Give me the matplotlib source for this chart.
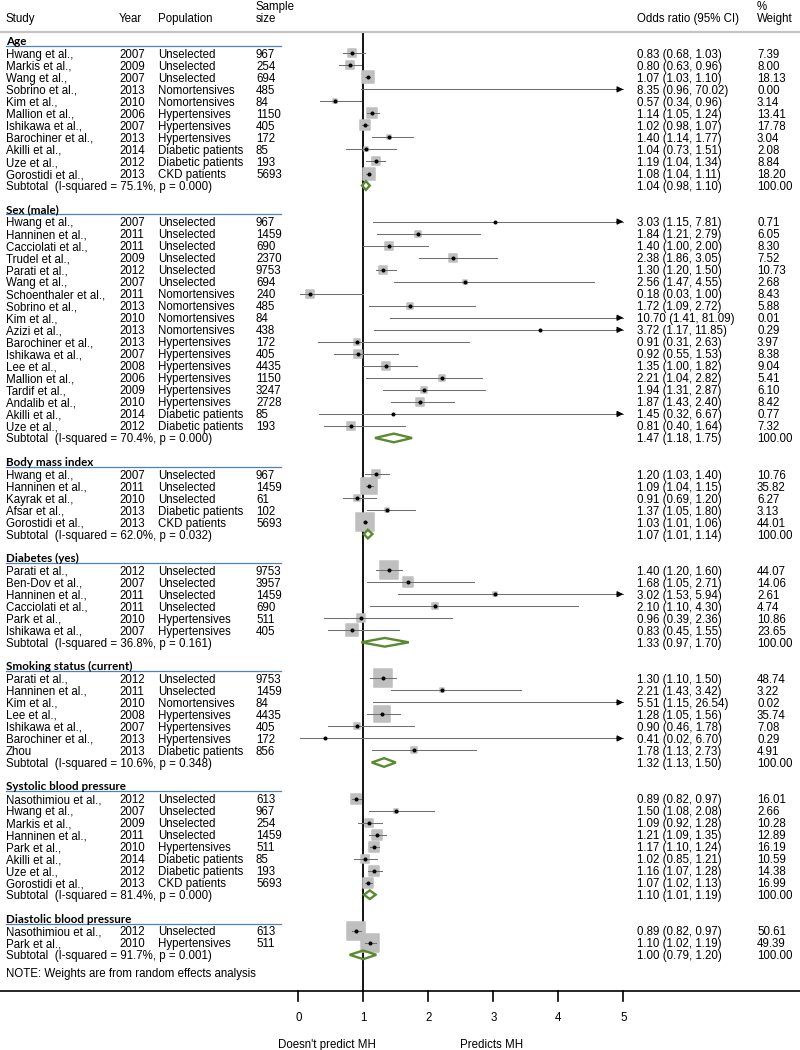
import numpy as np
import matplotlib.pyplot as plt
from matplotlib.patches import Polygon
from matplotlib.transforms import blended_transform_factory

plt.rcParams['font.family'] = ['Liberation Sans', 'DejaVu Sans']

# ---- data ----
sections = ['Age', 'Sex (male)', 'Body mass index', 'Diabetes (yes)',
            'Smoking status (current)', 'Systolic blood pressure',
            'Diastolic blood pressure']
group = [0] * 11 + [1] * 18 + [2] * 5 + [3] * 6 + [4] * 7 + [5] * 8 + [6] * 2

study = ['Hwang et al.,', 'Markis et al.,', 'Wang et al.,', 'Sobrino et al.,', 'Kim et al.,',
         'Mallion et al.,', 'Ishikawa et al.,', 'Barochiner et al.,', 'Akilli et al.,',
         'Uze et al.,', 'Gorostidi et al.,',
         'Hwang et al.,', 'Hanninen et al.,', 'Cacciolati et al.,', 'Trudel et al.,',
         'Parati et al.,', 'Wang et al.,', 'Schoenthaler et al.,', 'Sobrino et al.,',
         'Kim et al.,', 'Azizi et al.,', 'Barochiner et al.,', 'Ishikawa et al.,',
         'Lee et al.,', 'Mallion et al.,', 'Tardif et al.,', 'Andalib et al.,',
         'Akilli et al.,', 'Uze et al.,',
         'Hwang et al.,', 'Hanninen et al.,', 'Kayrak et al.,', 'Afsar et al.,',
         'Gorostidi et al.,',
         'Parati et al.,', 'Ben-Dov et al.,', 'Hanninen et al.,', 'Cacciolati et al.,',
         'Park et al.,', 'Ishikawa et al.,',
         'Parati et al.,', 'Hanninen et al.,', 'Kim et al.,', 'Lee et al.,',
         'Ishikawa et al.,', 'Barochiner et al.,', 'Zhou',
         'Nasothimiou et al.,', 'Hwang et al.,', 'Markis et al.,', 'Hanninen et al.,',
         'Park et al.,', 'Akilli et al.,', 'Uze et al.,', 'Gorostidi et al.,',
         'Nasothimiou et al.,', 'Park et al.,']
year = [2007, 2009, 2007, 2013, 2010, 2006, 2007, 2013, 2014, 2012, 2013,
        2007, 2011, 2011, 2009, 2012, 2007, 2011, 2013, 2010, 2013, 2013, 2007,
        2008, 2006, 2009, 2010, 2014, 2012,
        2007, 2011, 2010, 2013, 2013,
        2012, 2007, 2011, 2011, 2010, 2007,
        2012, 2011, 2010, 2008, 2007, 2013, 2013,
        2012, 2007, 2009, 2011, 2010, 2014, 2012, 2013,
        2012, 2010]
U, N, H, D, C = 'Unselected', 'Nomortensives', 'Hypertensives', 'Diabetic patients', 'CKD patients'
population = [U, U, U, N, N, H, H, H, D, D, C,
              U, U, U, U, U, U, N, N, N, N, H, H, H, H, H, H, D, D,
              U, U, U, D, C,
              U, U, U, U, H, H,
              U, U, N, H, H, H, D,
              U, U, U, U, H, D, D, C,
              U, H]
sample_size = [967, 254, 694, 485, 84, 1150, 405, 172, 85, 193, 5693,
               967, 1459, 690, 2370, 9753, 694, 240, 485, 84, 438, 172, 405,
               4435, 1150, 3247, 2728, 85, 193,
               967, 1459, 61, 102, 5693,
               9753, 3957, 1459, 690, 511, 405,
               9753, 1459, 84, 4435, 405, 172, 856,
               613, 967, 254, 1459, 511, 85, 193, 5693,
               613, 511]
odds = [0.83, 0.80, 1.07, 8.35, 0.57, 1.14, 1.02, 1.40, 1.04, 1.19, 1.08,
        3.03, 1.84, 1.40, 2.38, 1.30, 2.56, 0.18, 1.72, 10.70, 3.72, 0.91, 0.92,
        1.35, 2.21, 1.94, 1.87, 1.45, 0.81,
        1.20, 1.09, 0.91, 1.37, 1.03,
        1.40, 1.68, 3.02, 2.10, 0.96, 0.83,
        1.30, 2.21, 5.51, 1.28, 0.90, 0.41, 1.78,
        0.89, 1.50, 1.09, 1.21, 1.17, 1.02, 1.16, 1.07,
        0.89, 1.10]
ci_low = [0.68, 0.63, 1.03, 0.96, 0.34, 1.05, 0.98, 1.14, 0.73, 1.04, 1.04,
          1.15, 1.21, 1.00, 1.86, 1.20, 1.47, 0.03, 1.09, 1.41, 1.17, 0.31, 0.55,
          1.00, 1.04, 1.31, 1.43, 0.32, 0.40,
          1.03, 1.04, 0.69, 1.05, 1.01,
          1.20, 1.05, 1.53, 1.10, 0.39, 0.45,
          1.10, 1.43, 1.15, 1.05, 0.46, 0.02, 1.13,
          0.82, 1.08, 0.92, 1.09, 1.10, 0.85, 1.07, 1.02,
          0.82, 1.02]
ci_high = [1.03, 0.96, 1.10, 70.02, 0.96, 1.24, 1.07, 1.77, 1.51, 1.34, 1.11,
           7.81, 2.79, 2.00, 3.05, 1.50, 4.55, 1.00, 2.72, 81.09, 11.85, 2.63, 1.53,
           1.82, 2.82, 2.87, 2.40, 6.67, 1.64,
           1.40, 1.15, 1.20, 1.80, 1.06,
           1.60, 2.71, 5.94, 4.30, 2.36, 1.55,
           1.50, 3.42, 26.54, 1.56, 1.78, 6.70, 2.73,
           0.97, 2.08, 1.28, 1.35, 1.24, 1.21, 1.28, 1.13,
           0.97, 1.19]
weight = [7.39, 8.00, 18.13, 0.00, 3.14, 13.41, 17.78, 3.04, 2.08, 8.84, 18.20,
          0.71, 6.05, 8.30, 7.52, 10.73, 2.68, 8.43, 5.88, 0.01, 0.29, 3.97, 8.38,
          9.04, 5.41, 6.10, 8.42, 0.77, 7.32,
          10.76, 35.82, 6.27, 3.13, 44.01,
          44.07, 14.06, 2.61, 4.74, 10.86, 23.65,
          48.74, 3.22, 0.02, 35.74, 7.08, 0.29, 4.91,
          16.01, 2.66, 10.28, 12.89, 16.19, 10.59, 14.38, 16.99,
          50.61, 49.39]

sub_i2 = ['75.1%', '70.4%', '62.0%', '36.8%', '10.6%', '81.4%', '91.7%']
sub_p = ['0.000', '0.000', '0.032', '0.161', '0.348', '0.000', '0.001']
sub_or = [1.04, 1.47, 1.07, 1.33, 1.32, 1.10, 1.00]
sub_low = [0.98, 1.18, 1.01, 0.97, 1.13, 1.01, 0.79]
sub_high = [1.10, 1.75, 1.14, 1.70, 1.50, 1.19, 1.20]

xticks = [0, 1, 2, 3, 4, 5]
xmax_plot = 5

# ---- layout ----
W, Hpx = 800, 1050
x0_px, unit_px = 298.3, 65.0          # pixel of OR=0, pixels per OR unit
row0_px, row_px = 41.3, 12.02         # pixel of first row, pixels per row

fig = plt.figure(figsize=(8, 10.5), dpi=100)
ax = fig.add_axes([0, 0, 1, 1])
ax.set_xlim(-x0_px / unit_px, (W - x0_px) / unit_px)
ax.set_ylim((Hpx - row0_px) / row_px, -row0_px / row_px)
ax.axis('off')
tx = blended_transform_factory(ax.transAxes, ax.transData)

fs = 8.3
VA = 'center_baseline'
col_study, col_year, col_pop, col_n = 6 / W, 119 / W, 158 / W, 256 / W
col_or, col_w = 637 / W, 757 / W
green = '#5a8a30'
box_col = '#bfbfbf'
ci_col = '#707070'


def txt(x, y, s, **kw):
    ax.text(x, y, s, transform=tx, fontsize=fs, va=VA, **kw)


# header
hdr = -2.02
txt(col_study, hdr, 'Study')
txt(col_year, hdr, 'Year')
txt(col_pop, hdr, 'Population')
txt(col_n, hdr - 0.93, 'Sample')
txt(col_n, hdr, 'size')
txt(col_or, hdr, 'Odds ratio (95% CI)')
txt(col_w, hdr - 0.93, '%')
txt(col_w, hdr, 'Weight')
ax.plot([0, 1], [-0.8, -0.8], transform=tx, color='#c4c4c4', lw=1.6)

group = np.array(group)
row = 0
for g, name in enumerate(sections):
    ax.text(col_study, row - 0.05, name, transform=tx, fontsize=8.4, va=VA,
            fontfamily='Lato', fontweight='bold')
    ax.plot([col_study, 281 / W], [row + 0.4, row + 0.4], transform=tx,
            color='#4f81bd', lw=0.9)
    row += 1
    for i in np.where(group == g)[0]:
        txt(col_study, row, study[i])
        txt(col_year, row, str(year[i]))
        txt(col_pop, row, population[i])
        txt(col_n, row, str(sample_size[i]))
        txt(col_or, row, f'{odds[i]:.2f} ({ci_low[i]:.2f}, {ci_high[i]:.2f})')
        txt(col_w, row, f'{weight[i]:.2f}')

        hi = min(ci_high[i], xmax_plot)
        if weight[i] >= 1 and odds[i] <= xmax_plot:
            ax.scatter(odds[i], row, marker='s', s=3.5 * weight[i], color=box_col,
                       edgecolor=box_col, linewidths=1.1, joinstyle='round', zorder=2)
        ax.plot([ci_low[i], hi], [row, row], color=ci_col, lw=0.75, zorder=3)
        if ci_high[i] > xmax_plot:
            ax.annotate('', xy=(xmax_plot, row), xytext=(xmax_plot - 0.1, row),
                        arrowprops=dict(arrowstyle='-|>', color='black', lw=0.8,
                                        mutation_scale=9, shrinkA=0, shrinkB=0),
                        zorder=4)
        if odds[i] <= xmax_plot:
            ax.plot(odds[i], row, 'o', color='black', ms=1.9, zorder=4)
        row += 1

    txt(col_study, row, f'Subtotal  (I-squared = {sub_i2[g]}, p = {sub_p[g]})')
    txt(col_or, row, f'{sub_or[g]:.2f} ({sub_low[g]:.2f}, {sub_high[g]:.2f})')
    txt(col_w, row, '100.00')
    dh = 0.36
    ax.add_patch(Polygon([(sub_low[g], row), (sub_or[g], row - dh),
                          (sub_high[g], row), (sub_or[g], row + dh)],
                         closed=True, fill=False, edgecolor=green, lw=1.7, zorder=5))
    row += 2

note_row = row - 1 + 0.5
txt(col_study, note_row, 'NOTE: Weights are from random effects analysis')

# reference line and x axis
axis_row = (991 - row0_px) / row_px
ax.plot([1, 1], [-0.8, axis_row], color='black', lw=1.3, zorder=1)
ax.plot([0, 1], [axis_row, axis_row], transform=tx, color='black', lw=1.2)
tick_len = 10 / row_px
for t in xticks:
    ax.plot([t, t], [axis_row, axis_row + tick_len], color='black', lw=1.2)
    ax.text(t, axis_row + 2.1, str(t), fontsize=fs, ha='center', va=VA)
ax.text(0.44, axis_row + 4.35, "Doesn't predict MH", fontsize=fs, ha='center', va=VA)
ax.text(2.97, axis_row + 4.35, 'Predicts MH', fontsize=fs, ha='center', va=VA)

fig.savefig('out.png', dpi=100)
